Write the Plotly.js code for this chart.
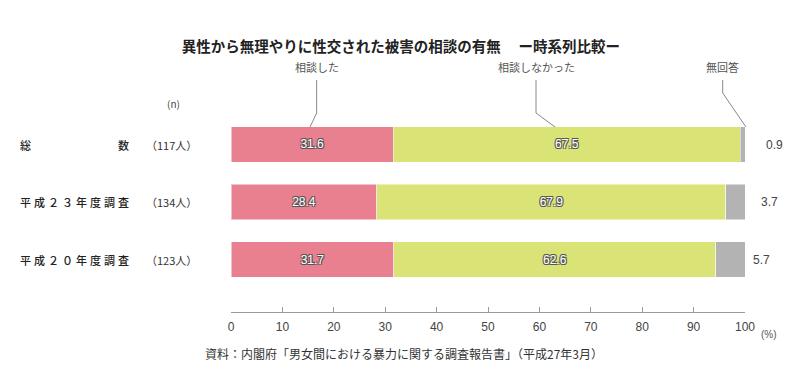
<!DOCTYPE html>
<html>
<head>
<meta charset="utf-8">
<script src="https://cdn.plot.ly/plotly-3.0.1.min.js"></script>
<style>html,body{margin:0;padding:0;background:#fff;}#chart{width:800px;height:375px;}</style>
</head>
<body>
<div id="chart"></div>
<script>
// ---- data ----
const categories = ["総数", "平成２３年度調査", "平成２０年度調査"];
const sampleSizes = ["（117人）", "（134人）", "（123人）"];
const seriesNames = ["相談した", "相談しなかった", "無回答"];
const consulted = [31.6, 28.4, 31.7];
const notConsulted = [67.5, 67.9, 62.6];
const noAnswer = [0.9, 3.7, 5.7];
const xTickVals = [0, 10, 20, 30, 40, 50, 60, 70, 80, 90, 100];
const titleText = "異性から無理やりに性交された被害の相談の有無　 ー時系列比較ー";
const sourceText = "資料：内閣府「男女間における暴力に関する調査報告書」（平成27年3月）";

// ---- layout helpers (pixel -> paper) ----
const L = 231, W = 514, T = 115, H = 197;
const px2x = px => (px - L) / W;
const py2y = py => (T + H - py) / H;

const colors = ["#E8808F", "#D9E376", "#B3B3B3"];
const numFont = "Liberation Sans, Arial, Noto Sans CJK JP, sans-serif";
const jpFont = "Noto Sans CJK JP, sans-serif";
const outline = "-1px -1px 0 #555, 1px -1px 0 #555, -1px 1px 0 #555, 1px 1px 0 #555";

const seriesVals = [consulted, notConsulted, noAnswer];
const traces = seriesVals.map((vals, i) => ({
  type: "bar",
  orientation: "h",
  name: seriesNames[i],
  y: categories,
  x: vals,
  width: 0.62,
  marker: {color: colors[i], line: {color: "rgba(255,255,255,0.5)", width: 1}},
  text: i < 2 ? vals.map(v => v.toFixed(1)) : null,
  textposition: i < 2 ? "inside" : "none",
  insidetextanchor: "middle",
  textangle: 0,
  constraintext: "none",
  insidetextfont: {family: numFont, size: 12, color: "#ffffff", shadow: outline},
  hoverinfo: "skip"
}));

const annotations = [];
// left labels, distributed justification
categories.forEach((cat, r) => {
  const chars = Array.from(cat);
  const n = chars.length;
  const c0 = 25.5, c1 = 123.5;
  chars.forEach((ch, k) => {
    const cx = n > 1 ? c0 + k * (c1 - c0) / (n - 1) : c0;
    annotations.push({xref: "paper", yref: "y", x: px2x(cx), y: cat, text: ch,
      showarrow: false, xanchor: "center", yanchor: "middle",
      font: {family: jpFont, size: 11, color: "#222", weight: 500}});
  });
  annotations.push({xref: "paper", yref: "y", x: px2x(171), y: cat, text: sampleSizes[r],
    showarrow: false, xanchor: "center", yanchor: "middle",
    font: {family: jpFont, size: 11, color: "#333"}});
});
annotations.push({xref: "paper", yref: "paper", x: px2x(173), y: py2y(103), text: "(n)",
  showarrow: false, xanchor: "center", yanchor: "middle",
  font: {family: jpFont, size: 10, color: "#444"}});
// outside values for 無回答
const outsideCx = [774, 769, 761];
categories.forEach((cat, r) => {
  annotations.push({xref: "paper", yref: "y", x: px2x(outsideCx[r]), y: cat,
    text: noAnswer[r].toFixed(1), showarrow: false, xanchor: "center", yanchor: "middle",
    font: {family: numFont, size: 12, color: "#444"}});
});
// series labels above
const labelCx = [316.7, 536, 722.5];
seriesNames.forEach((nm, i) => {
  annotations.push({xref: "paper", yref: "paper", x: px2x(labelCx[i]), y: py2y(67), text: nm,
    showarrow: false, xanchor: "center", yanchor: "middle",
    font: {family: jpFont, size: 11, color: "#555"}});
});
// (%) unit
annotations.push({xref: "paper", yref: "paper", x: px2x(769), y: py2y(334), text: "(%)",
  showarrow: false, xanchor: "center", yanchor: "middle",
  font: {family: numFont, size: 10, color: "#555"}});
// source
annotations.push({xref: "paper", yref: "paper", x: px2x(203), y: py2y(353), text: sourceText,
  showarrow: false, xanchor: "left", yanchor: "middle",
  font: {family: jpFont, size: 12, color: "#333"}});

// leader lines
const leaders = [
  [[316.7, 80], [316.7, 113], [310, 127]],
  [[536, 80], [536, 113], [555, 127]],
  [[722.7, 80], [722.7, 93], [746, 127]]
];
const shapes = leaders.map(pts => ({
  type: "path", xref: "paper", yref: "paper",
  path: pts.map((p, k) => (k ? "L" : "M") + " " + px2x(p[0]).toFixed(4) + "," + py2y(p[1]).toFixed(4)).join(" "),
  line: {color: "#888", width: 1}
}));

const layout = {
  width: 800, height: 375,
  margin: {l: L, r: 800 - L - W, t: T, b: 375 - T - H, pad: 0},
  paper_bgcolor: "#fff", plot_bgcolor: "#fff",
  barmode: "stack",
  showlegend: false,
  title: {text: "<b>" + titleText + "</b>", x: 0.501, xref: "container", xanchor: "center",
    y: 1 - 47 / 375, yref: "container", yanchor: "middle",
    font: {family: jpFont, size: 14.5, color: "#222"}},
  xaxis: {range: [0, 100], tickvals: xTickVals, ticks: "inside", ticklen: 5, tickcolor: "#999",
    showline: true, linecolor: "#999", linewidth: 1, showgrid: false, zeroline: false,
    ticklabelstandoff: 4,
    tickfont: {family: numFont, size: 12, color: "#444"}, fixedrange: true},
  yaxis: {type: "category", categoryarray: categories, range: [2.913, -0.513],
    showticklabels: false, showline: false, showgrid: false, zeroline: false, ticks: "", fixedrange: true},
  annotations: annotations,
  shapes: shapes
};

Plotly.newPlot("chart", traces, layout, {staticPlot: true, displayModeBar: false});
</script>
</body>
</html>
